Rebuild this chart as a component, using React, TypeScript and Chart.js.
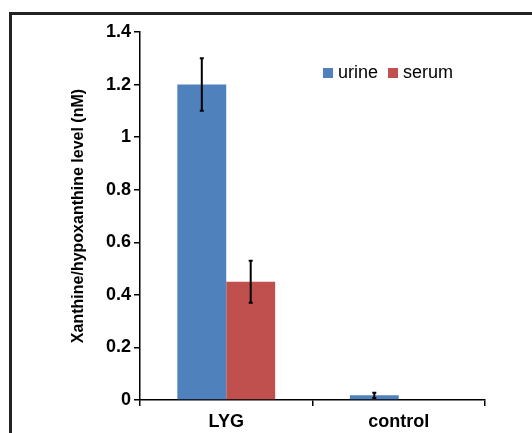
import React, { useEffect, useRef } from "react";
import { Chart, registerables } from "chart.js";

Chart.register(...registerables);

const categories = ["LYG", "control"];
const urineValues = [1.2, 0.018];
const serumValues = [0.45, 0];
const urineErrors = [0.1, 0.01];
const serumErrors = [0.08, 0];
const yTicks = [0, 0.2, 0.4, 0.6, 0.8, 1, 1.2, 1.4];

const errors = [urineErrors, serumErrors];
const FONT = "'Liberation Sans', Arial, sans-serif";

const errorBarPlugin = {
  id: "errorBars",
  afterDatasetsDraw(chart: any) {
    const ctx = chart.ctx;
    const y = chart.scales.y;
    ctx.save();
    ctx.strokeStyle = "#000";
    ctx.lineWidth = 2;
    chart.data.datasets.forEach((ds: any, di: number) => {
      const meta = chart.getDatasetMeta(di);
      meta.data.forEach((bar: any, i: number) => {
        const v = ds.data[i];
        const e = errors[di][i];
        if (!e) return;
        const top = y.getPixelForValue(v + e);
        const bot = y.getPixelForValue(v - e);
        ctx.beginPath();
        ctx.moveTo(bar.x, top);
        ctx.lineTo(bar.x, bot);
        ctx.moveTo(bar.x - 2, top);
        ctx.lineTo(bar.x + 2, top);
        ctx.moveTo(bar.x - 2, bot);
        ctx.lineTo(bar.x + 2, bot);
        ctx.stroke();
      });
    });
    ctx.restore();
  },
};

const framePlugin = {
  id: "frame",
  beforeDraw(chart: any) {
    const ctx = chart.ctx;
    ctx.save();
    ctx.fillStyle = "#fff";
    ctx.fillRect(0, 0, chart.width, chart.height);
    ctx.strokeStyle = "#222";
    ctx.lineWidth = 3;
    ctx.strokeRect(10.5, 13.5, chart.width + 20, chart.height + 20);
    ctx.restore();
  },
};

const legendPlugin = {
  id: "customLegend",
  afterDraw(chart: any) {
    const ctx = chart.ctx;
    ctx.save();
    ctx.font = "18px " + FONT;
    ctx.textBaseline = "middle";
    const items = [
      { x: 323, ds: chart.data.datasets[0] },
      { x: 388, ds: chart.data.datasets[1] },
    ];
    items.forEach((it) => {
      ctx.fillStyle = it.ds.backgroundColor;
      ctx.fillRect(it.x, 68, 10, 10);
      ctx.fillStyle = "#000";
      ctx.fillText(it.ds.label, it.x + 15, 73);
    });
    ctx.restore();
  },
};

export default function App() {
  const ref = useRef<HTMLCanvasElement>(null);
  useEffect(() => {
    document.body.style.margin = "0";
    const chart = new Chart(ref.current!, {
      type: "bar",
      data: {
        labels: categories,
        datasets: [
          { label: "urine", data: urineValues, backgroundColor: "#4F81BD" },
          { label: "serum", data: serumValues, backgroundColor: "#C0504D" },
        ],
      },
      options: {
        animation: false,
        responsive: false,
        layout: { padding: { left: 0, right: 47, top: 32, bottom: 0 } },
        plugins: { legend: { display: false }, tooltip: { enabled: false } },
        datasets: { bar: { categoryPercentage: 0.567, barPercentage: 1.0 } },
        scales: {
          x: {
            grid: {
              offset: true,
              drawOnChartArea: false,
              drawTicks: true,
              tickLength: 6,
              color: "#000",
              lineWidth: 1.5,
            },
            border: { color: "#000", width: 1.5 },
            ticks: {
              color: "#000",
              font: { family: FONT, size: 18, weight: "bold" },
              padding: 5,
            },
            afterFit(scale: any) {
              scale.height = 33;
            },
          },
          y: {
            min: 0,
            max: 1.4,
            afterBuildTicks(scale: any) {
              scale.ticks = yTicks.map((v) => ({ value: v }));
            },
            grid: {
              drawOnChartArea: false,
              drawTicks: true,
              tickLength: 6,
              color: "#000",
              lineWidth: 1.5,
            },
            border: { color: "#000", width: 1.5 },
            ticks: {
              color: "#000",
              padding: 3,
              font: { family: FONT, size: 18, weight: "bold" },
              callback: (v: any) => String(v),
            },
            title: {
              display: true,
              text: "Xanthine/hypoxanthine level (nM)",
              color: "#000",
              font: { family: FONT, size: 16, weight: "bold" },
              padding: { top: 69, bottom: 0 },
            },
            afterFit(scale: any) {
              scale.width = 140;
            },
          },
        },
      },
      plugins: [framePlugin, errorBarPlugin, legendPlugin],
    });
    return () => chart.destroy();
  }, []);
  return <canvas ref={ref} width={532} height={433} style={{ display: "block" }} />;
}
